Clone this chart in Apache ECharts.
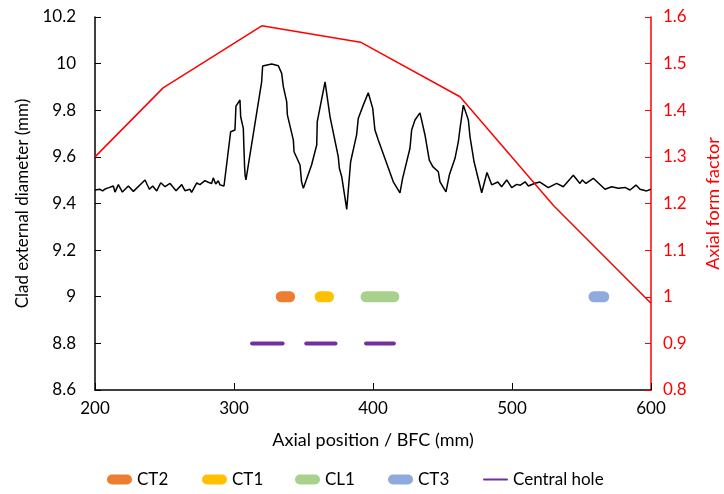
<!DOCTYPE html>
<html>
<head>
<meta charset="utf-8">
<script src="https://cdn.jsdelivr.net/npm/echarts@6/dist/echarts.min.js"></script>
<style>
  html, body { margin: 0; padding: 0; background: #fff; overflow: hidden; width: 100%; height: 100%; }
  #chart { display: block; width: 724px; height: 494px; }
</style>
</head>
<body>
<div id="chart"></div>
<script>
// Clad external diameter profile (mm) along the axial position (mm from BFC)
const diamX = [200, 203.6, 205.5, 207.2, 210, 213.2, 214.4, 216.8, 219.7, 224, 227.6, 236, 239.1, 241.5, 244.4, 247.3, 250.4, 254, 258.3, 262.4, 264.7, 268.3, 269.5, 273.2, 275.5, 279.1, 281.5, 283.9, 285.1, 286.8, 288.7, 289.9, 292.8, 297.6, 300.7, 301.4, 304.3, 304.8, 306.7, 307.2, 307.6, 308, 308.6, 319.9, 320.6, 327.1, 331.9, 334.3, 335.5, 337.9, 338.4, 342.7, 343.2, 347.5, 348.6, 349.9, 355.8, 359.5, 359.9, 365.5, 369.1, 375.0, 375.8, 377.5, 381.1, 383.9, 388.2, 389.4, 393.0, 396.6, 399.8, 401.4, 403.8, 414.6, 419.4, 421.3, 426.6, 427.8, 430.2, 433.8, 437.4, 440.5, 443, 447, 448.2, 452.5, 454.9, 459, 461.4, 462.6, 465, 468.6, 469.8, 472.7, 478.2, 482, 485.4, 489.8, 492.5, 496.2, 499.8, 503.4, 505.8, 509.4, 511.8, 516.5, 520.1, 526.1, 532.1, 536.9, 544.1, 548.9, 550.6, 553.2, 558.5, 566.9, 571.7, 576.5, 581.3, 584.9, 589.2, 592.1, 596.9, 600];
const diamY = [9.458, 9.461, 9.454, 9.462, 9.468, 9.475, 9.449, 9.481, 9.449, 9.475, 9.452, 9.501, 9.461, 9.475, 9.454, 9.489, 9.472, 9.486, 9.455, 9.481, 9.455, 9.461, 9.448, 9.488, 9.481, 9.498, 9.491, 9.486, 9.51, 9.484, 9.498, 9.48, 9.475, 9.708, 9.715, 9.818, 9.844, 9.772, 9.722, 9.629, 9.56, 9.52, 9.501, 9.922, 9.99, 9.998, 9.991, 9.958, 9.901, 9.837, 9.78, 9.672, 9.622, 9.565, 9.493, 9.465, 9.565, 9.651, 9.751, 9.922, 9.772, 9.601, 9.551, 9.515, 9.375, 9.579, 9.694, 9.765, 9.822, 9.875, 9.808, 9.715, 9.672, 9.493, 9.446, 9.508, 9.637, 9.715, 9.758, 9.789, 9.694, 9.586, 9.558, 9.536, 9.493, 9.45, 9.522, 9.594, 9.665, 9.722, 9.822, 9.758, 9.686, 9.579, 9.446, 9.533, 9.48, 9.492, 9.472, 9.501, 9.468, 9.482, 9.478, 9.493, 9.475, 9.487, 9.492, 9.468, 9.486, 9.472, 9.521, 9.486, 9.501, 9.486, 9.508, 9.461, 9.472, 9.465, 9.469, 9.458, 9.479, 9.461, 9.454, 9.461];

// Axial form factor (right axis)
const formX = [200, 249, 320, 391, 462.6, 530, 600];
const formY = [1.30, 1.448, 1.581, 1.546, 1.429, 1.195, 0.986];

// Axial extent of each feature: [start, end] in mm
const ct2 = [334, 340];
const ct1 = [362, 368];
const cl1 = [395, 415];
const ct3 = [559, 566];
const holes = [[313, 335], [352, 373], [395, 415]];
const bandLevel = 9.0;
const holeLevel = 8.8;

// Axis ticks
const xTicks = { min: 200, max: 600, interval: 100 };
const leftTicks = { min: 8.6, max: 10.2, interval: 0.2 };
const rightTicks = { min: 0.8, max: 1.6, interval: 0.1 };

const FONT = 'Lato';
const pairs = (xs, ys) => xs.map((x, i) => [x, ys[i]]);
const seg = (r, y) => [[r[0], y], [r[1], y]];
const fmt = v => String(Number(v.toFixed(1)));

const colors = {
  CT2: '#ED7D31', CT1: '#FFC000', CL1: '#A9D18E', CT3: '#8FAADC', hole: '#7030A0'
};

function band(name, range, color) {
  return {
    name, type: 'line', yAxisIndex: 0, data: seg(range, bandLevel),
    symbol: 'none', silent: true, color,
    lineStyle: { color, width: 11, cap: 'round' }, z: 3
  };
}

const capsule = 'path://M5,0 H20 A5,5 0 0 1 20,10 H5 A5,5 0 0 1 5,0 Z';
const thinBar = 'path://M1,0 H24 A1,1 0 0 1 24,2 H1 A1,1 0 0 1 1,0 Z';

function legendItem(name, left, color, h) {
  return {
    left, top: 471, orient: 'horizontal', padding: 0,
    itemWidth: 25, itemHeight: h, itemGap: 0,
    textStyle: { fontFamily: FONT, fontSize: 17, color: '#000' },
    data: [{ name, icon: h > 5 ? capsule : thinBar, itemStyle: { color } }],
    selectedMode: false
  };
}

const series = [
  {
    name: 'Diameter', type: 'line', yAxisIndex: 0, data: pairs(diamX, diamY),
    symbol: 'none', lineStyle: { color: '#000', width: 1.5 }, color: '#000', z: 4
  },
  {
    name: 'Form factor', type: 'line', yAxisIndex: 1, data: pairs(formX, formY),
    symbol: 'none', lineStyle: { color: '#FF0000', width: 1.5 }, color: '#FF0000', z: 4
  },
  band('CT2', ct2, colors.CT2),
  band('CT1', ct1, colors.CT1),
  band('CL1', cl1, colors.CL1),
  band('CT3', ct3, colors.CT3)
];
holes.forEach(r => series.push({
  name: 'Central hole', type: 'line', yAxisIndex: 0, data: seg(r, holeLevel),
  symbol: 'none', silent: true, color: colors.hole,
  lineStyle: { color: colors.hole, width: 4, cap: 'round' }, z: 3
}));

const chart = echarts.init(document.getElementById('chart'), null, { renderer: 'canvas', width: 724, height: 494 });
chart.setOption({
  animation: false,
  backgroundColor: '#fff',
  grid: { left: 95, right: 73, top: 17, bottom: 104, containLabel: false, outerBoundsMode: 'none' },
  legend: [
    legendItem('CT2', 107, colors.CT2, 10),
    legendItem('CT1', 202, colors.CT1, 10),
    legendItem('CL1', 295, colors.CL1, 10),
    legendItem('CT3', 388, colors.CT3, 10),
    legendItem('Central hole', 483, colors.hole, 3)
  ],
  xAxis: {
    type: 'value', min: xTicks.min, max: xTicks.max, interval: xTicks.interval,
    name: 'Axial position / BFC (mm)', nameLocation: 'middle', nameGap: 41,
    nameTextStyle: { fontFamily: FONT, fontSize: 18, color: '#000' },
    axisLine: { lineStyle: { color: '#000', width: 1.5 } },
    axisTick: { inside: true, length: 7, lineStyle: { color: '#000' } },
    axisLabel: { fontFamily: FONT, fontSize: 17, color: '#000', margin: 10 },
    splitLine: { show: false }
  },
  yAxis: [
    {
      type: 'value', position: 'left', min: leftTicks.min, max: leftTicks.max, interval: leftTicks.interval,
      name: 'Clad external diameter (mm)', nameLocation: 'middle', nameGap: 64, nameRotate: 90,
      nameTextStyle: { fontFamily: FONT, fontSize: 17, color: '#000' },
      axisLine: { show: true, lineStyle: { color: '#000', width: 1.5 } },
      axisTick: { show: true, inside: true, length: 6, lineStyle: { color: '#000' } },
      axisLabel: { fontFamily: FONT, fontSize: 17, color: '#000', margin: 19, formatter: fmt },
      splitLine: { show: false }
    },
    {
      type: 'value', position: 'right', min: rightTicks.min, max: rightTicks.max, interval: rightTicks.interval,
      name: 'Axial form factor', nameLocation: 'middle', nameGap: 53, nameRotate: 90,
      nameTextStyle: { fontFamily: FONT, fontSize: 18, color: '#FF0000' },
      axisLine: { show: true, lineStyle: { color: '#FF0000', width: 1.5 } },
      axisTick: { show: true, inside: true, length: 6, lineStyle: { color: '#FF0000' } },
      axisLabel: { fontFamily: FONT, fontSize: 17, color: '#FF0000', margin: 12, formatter: fmt },
      splitLine: { show: false }
    }
  ],
  series
});
</script>
</body>
</html>
